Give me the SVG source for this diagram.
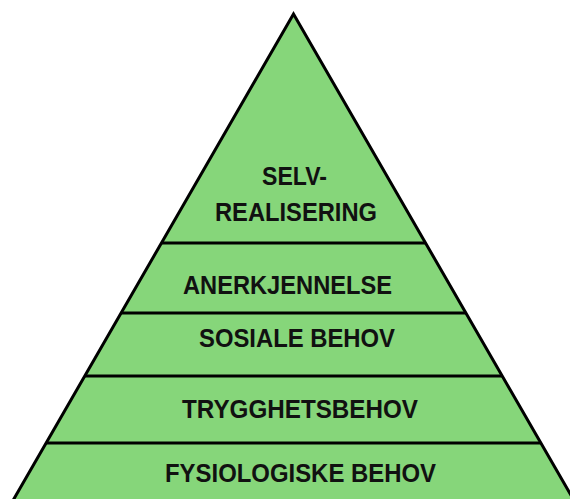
<svg xmlns="http://www.w3.org/2000/svg" width="570" height="499" viewBox="0 0 570 499">
  <style>
    .lvl { fill: #86d67a; }
    .edge { fill: none; stroke: #000; stroke-width: 3; stroke-linejoin: miter; }
    .sep { stroke: #000; stroke-width: 3; }
    .lbl { font-family: "Liberation Sans", Arial, sans-serif; font-weight: bold; font-size: 26px; fill: #111; }
  </style>
  <defs>
    <clipPath id="pyr">
      <polygon points="293.5,14 7.5,510 579.5,510"/>
    </clipPath>
  </defs>
  <rect width="570" height="499" fill="#fff"/>

  <!-- pyramid body -->
  <polygon class="lvl" points="293.5,14 7.5,510 579.5,510"/>

  <!-- level separators, clipped to the pyramid -->
  <g id="connectors" clip-path="url(#pyr)">
    <line class="sep" x1="0" y1="243" x2="570" y2="243"/>
    <line class="sep" x1="0" y1="313" x2="570" y2="313"/>
    <line class="sep" x1="0" y1="376" x2="570" y2="376"/>
    <line class="sep" x1="0" y1="443" x2="570" y2="443"/>
  </g>

  <polygon class="edge" points="293.5,14 7.5,510 579.5,510"/>

  <g id="level-selvrealisering">
    <text class="lbl" x="262" y="185" textLength="65" lengthAdjust="spacingAndGlyphs">SELV-</text>
    <text class="lbl" x="215" y="221" textLength="162" lengthAdjust="spacingAndGlyphs">REALISERING</text>
  </g>
  <g id="level-anerkjennelse">
    <text class="lbl" x="183" y="294" textLength="209" lengthAdjust="spacingAndGlyphs">ANERKJENNELSE</text>
  </g>
  <g id="level-sosiale">
    <text class="lbl" x="199" y="347" textLength="196" lengthAdjust="spacingAndGlyphs">SOSIALE BEHOV</text>
  </g>
  <g id="level-trygghet">
    <text class="lbl" x="182" y="418" textLength="236" lengthAdjust="spacingAndGlyphs">TRYGGHETSBEHOV</text>
  </g>
  <g id="level-fysiologiske">
    <text class="lbl" x="165" y="482" textLength="271" lengthAdjust="spacingAndGlyphs">FYSIOLOGISKE BEHOV</text>
  </g>
</svg>
